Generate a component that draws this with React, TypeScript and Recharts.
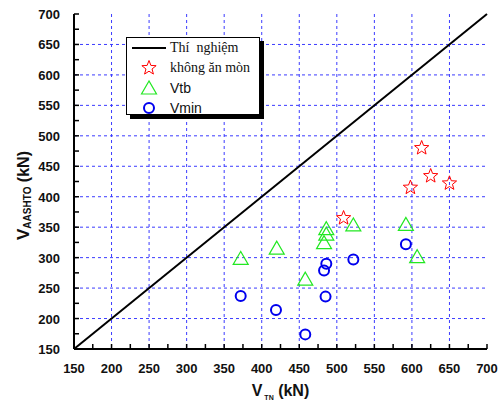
import React from "react";
import {
  CartesianGrid,
  ComposedChart,
  Label,
  Legend,
  ReferenceLine,
  Scatter,
  XAxis,
  YAxis,
} from "recharts";

// tick values (kN)
const majorTicks = [150, 200, 250, 300, 350, 400, 450, 500, 550, 600, 650, 700];
const minorTicks = [150, 175, 200, 225, 250, 275, 300, 325, 350, 375, 400, 425, 450, 475, 500, 525, 550, 575, 600, 625, 650, 675, 700];
const gridValues = [200, 250, 300, 350, 400, 450, 500, 550, 600, 650];

// thí nghiệm = aashto reference line
const diagonalX = [150, 700];
const diagonalY = [150, 700];

// không ăn mòn
const starX = [509, 598, 613, 625, 650];
const starY = [365, 415, 480, 434, 422];

// Vtb
const vtbX = [372, 420, 458, 483, 486, 486, 522, 592, 607];
const vtbY = [297, 314, 263, 323, 337, 346, 352, 353, 300];

// Vmin
const vminX = [372, 419, 458, 485, 483, 486, 522, 592];
const vminY = [237, 214, 174, 236, 279, 290, 297, 322];

const legendLabels = ["Thí  nghiệm", "không ăn mòn", "Vtb", "Vmin"];

const toPoints = (xs: number[], ys: number[]) => xs.map((x, i) => ({ x, y: ys[i] }));

const starData = toPoints(starX, starY);
const vtbData = toPoints(vtbX, vtbY);
const vminData = toPoints(vminX, vminY);

const RED = "#ff0000";
const GREEN = "#22e822";
const BLUE = "#0000ee";
const GRID = "#3b3bff";
const SANS = "'Liberation Sans', Arial, sans-serif";
const SERIF = "'Liberation Serif', 'Times New Roman', serif";

function starPath(cx: number, cy: number, outer: number, inner: number) {
  const pts: string[] = [];
  for (let i = 0; i < 10; i++) {
    const r = i % 2 === 0 ? outer : inner;
    const a = -Math.PI / 2 + (i * Math.PI) / 5;
    pts.push(`${cx + r * Math.cos(a)},${cy + r * Math.sin(a)}`);
  }
  return pts.join(" ");
}

const Star = ({ cx, cy }: any) => (
  <polygon points={starPath(cx, cy, 7.5, 3.2)} fill="none" stroke={RED} strokeWidth={1} />
);

const Triangle = ({ cx, cy }: any) => (
  <polygon
    points={`${cx},${cy - 8} ${cx - 7.5},${cy + 5} ${cx + 7.5},${cy + 5}`}
    fill="none"
    stroke={GREEN}
    strokeWidth={1.2}
  />
);

const Circle = ({ cx, cy }: any) => (
  <circle cx={cx} cy={cy} r={5} fill="none" stroke={BLUE} strokeWidth={2} />
);

const tickText = { fontFamily: SANS, fontSize: 13, fontWeight: 700, fill: "#111" };

const BottomTick = ({ x, y, payload }: any) => (
  <g>
    <line x1={x} x2={x} y1={y} y2={y - 5} stroke="#000" strokeWidth={1.5} />
    {payload.value % 50 === 0 && (
      <text x={x} y={y + 24} textAnchor="middle" {...tickText}>
        {payload.value}
      </text>
    )}
  </g>
);

const TopTick = ({ x, y }: any) => (
  <line x1={x} x2={x} y1={y} y2={y + 5} stroke="#000" strokeWidth={1.5} />
);

const LeftTick = ({ x, y, payload }: any) => (
  <g>
    <line x1={x} x2={x + 5} y1={y} y2={y} stroke="#000" strokeWidth={1.5} />
    {payload.value % 50 === 0 && (
      <text x={x - 14} y={y + 5} textAnchor="end" {...tickText}>
        {payload.value}
      </text>
    )}
  </g>
);

const RightTick = ({ x, y }: any) => (
  <line x1={x} x2={x - 5} y1={y} y2={y} stroke="#000" strokeWidth={1.5} />
);

const XTitle = ({ viewBox }: any) => {
  const cx = viewBox.x + viewBox.width / 2;
  return (
    <text x={cx} y={viewBox.y + 47} textAnchor="middle" fontFamily={SANS} fontWeight={700} fill="#111">
      <tspan fontSize={16}>V</tspan>
      <tspan fontSize={7} dy={4}> TN</tspan>
      <tspan fontSize={16} dy={-4}> (kN)</tspan>
    </text>
  );
};

const YTitle = ({ viewBox }: any) => {
  const cx = viewBox.x + 9;
  const cy = viewBox.y + viewBox.height / 2 + 14;
  return (
    <text
      x={cx}
      y={cy}
      transform={`rotate(-90, ${cx}, ${cy})`}
      textAnchor="middle"
      dominantBaseline="central"
      fontFamily={SANS}
      fontWeight={700}
      fill="#111"
    >
      <tspan fontSize={17}>V</tspan>
      <tspan fontSize={10} dy={4}>AASHTO</tspan>
      <tspan fontSize={16} dy={-4}> (kN)</tspan>
    </text>
  );
};

const legendSymbols = [
  <svg width={40} height={20} key="l">
    <line x1={3} x2={37} y1={10} y2={10} stroke="#000" strokeWidth={2} />
  </svg>,
  <svg width={40} height={20} key="s">
    <Star cx={20} cy={10} />
  </svg>,
  <svg width={40} height={20} key="t">
    <Triangle cx={20} cy={11} />
  </svg>,
  <svg width={40} height={20} key="c">
    <Circle cx={20} cy={10} />
  </svg>,
];

const LegendBox = () => (
  <div
    style={{
      width: 132,
      height: 76,
      border: "1px solid #000",
      boxShadow: "4px 4px 0 #000",
      background: "#fff",
    }}
  >
    {legendLabels.map((label, i) => (
      <div key={label} style={{ display: "flex", alignItems: "center", height: 20 }}>
        <div style={{ width: 43, display: "flex", justifyContent: "center" }}>{legendSymbols[i]}</div>
        <span
          style={{
            whiteSpace: "pre",
            fontSize: 14,
            lineHeight: "20px",
            color: "#111",
            fontFamily: i < 2 ? SERIF : SANS,
          }}
        >
          {label}
        </span>
      </div>
    ))}
  </div>
);

export default function App() {
  return (
    <div style={{ position: "absolute", left: 0, top: 0, background: "#fff" }}>
      <ComposedChart width={499} height={404} margin={{ top: 14, right: 12, bottom: 25, left: 14 }}>
        <CartesianGrid
          stroke={GRID}
          strokeDasharray="3 3"
          verticalValues={gridValues}
          horizontalValues={gridValues}
        />
        <XAxis
          type="number"
          dataKey="x"
          domain={[150, 700]}
          ticks={minorTicks}
          interval={0}
          height={30}
          tickSize={0}
          tickMargin={0}
          tickLine={false}
          tick={<BottomTick />}
          axisLine={{ stroke: "#000", strokeWidth: 2 }}
          allowDataOverflow
        >
          <Label content={<XTitle />} />
        </XAxis>
        <XAxis
          xAxisId="top"
          orientation="top"
          type="number"
          domain={[150, 700]}
          ticks={minorTicks}
          interval={0}
          height={0}
          tickSize={0}
          tickMargin={0}
          tickLine={false}
          tick={<TopTick />}
          axisLine={{ stroke: "#000", strokeWidth: 2 }}
          allowDataOverflow
        />
        <YAxis
          type="number"
          dataKey="y"
          domain={[150, 700]}
          ticks={minorTicks}
          interval={0}
          width={60}
          tickSize={0}
          tickMargin={0}
          tickLine={false}
          tick={<LeftTick />}
          axisLine={{ stroke: "#000", strokeWidth: 2 }}
          allowDataOverflow
        >
          <Label content={<YTitle />} />
        </YAxis>
        <YAxis
          yAxisId="right"
          orientation="right"
          type="number"
          domain={[150, 700]}
          ticks={minorTicks}
          interval={0}
          width={0}
          tickSize={0}
          tickMargin={0}
          tickLine={false}
          tick={<RightTick />}
          axisLine={{ stroke: "#000", strokeWidth: 2 }}
          allowDataOverflow
        />
        <ReferenceLine
          segment={[
            { x: diagonalX[0], y: diagonalY[0] },
            { x: diagonalX[1], y: diagonalY[1] },
          ]}
          stroke="#000"
          strokeWidth={2}
          ifOverflow="visible"
        />
        <Scatter name="không ăn mòn" data={starData} shape={<Star />} isAnimationActive={false} />
        <Scatter name="Vtb" data={vtbData} shape={<Triangle />} isAnimationActive={false} />
        <Scatter name="Vmin" data={vminData} shape={<Circle />} isAnimationActive={false} />
        <Legend
          layout="vertical"
          align="center"
          verticalAlign="middle"
          content={<LegendBox />}
          wrapperStyle={{ left: 126, top: 37, width: "auto", height: "auto" }}
        />
      </ComposedChart>
    </div>
  );
}
